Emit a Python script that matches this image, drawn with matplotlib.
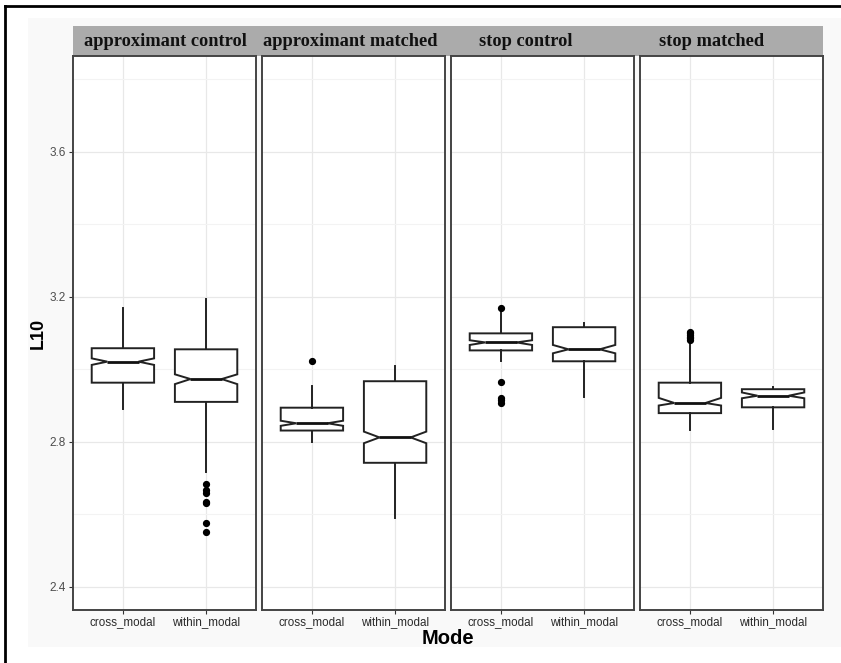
import numpy as np
import matplotlib.pyplot as plt
from matplotlib.patches import Rectangle
from matplotlib.lines import Line2D

# facets and categories
panels = ["approximant control", "approximant matched", "stop control", "stop matched"]
modes = ["cross_modal", "within_modal"]

# box stats, [cross_modal, within_modal] per facet
med = [[3.021, 2.973], [2.851, 2.812], [3.074, 3.055], [2.907, 2.927]]
q1 = [[2.963, 2.910], [2.831, 2.742], [3.052, 3.022], [2.879, 2.895]]
q3 = [[3.058, 3.055], [2.894, 2.967], [3.099, 3.116], [2.963, 2.945]]
whislo = [[2.890, 2.717], [2.799, 2.589], [3.023, 2.924], [2.832, 2.835]]
whishi = [[3.168, 3.194], [2.954, 3.010], [3.159, 3.127], [3.076, 2.952]]
cilo = [[3.012, 2.959], [2.844, 2.796], [3.067, 3.044], [2.900, 2.920]]
cihi = [[3.030, 2.986], [2.858, 2.828], [3.080, 3.067], [2.921, 2.936]]
fliers = [
    [[], [2.683, 2.668, 2.660, 2.634, 2.630, 2.575, 2.552]],
    [[3.023], []],
    [[3.168, 2.965, 2.922, 2.915, 2.908], []],
    [[3.080, 3.085, 3.090, 3.095, 3.100, 3.104], []],
]

major_y = [2.4, 2.8, 3.2, 3.6]
minor_y = [2.6, 3.0, 3.4, 3.8]

W, H = 841, 663
fig = plt.figure(figsize=(W / 100, H / 100), dpi=100)
fig.patch.set_facecolor("white")

# faint plot background and the outer frame lines
fig.patches.append(Rectangle((28 / W, 1 - 647 / H), (W - 28) / W, (647 - 18) / H,
                             transform=fig.transFigure, facecolor="#f9f9f9",
                             edgecolor="none", zorder=-2))
fig.lines.append(Line2D([5 / W, 1], [1 - 6 / H, 1 - 6 / H], transform=fig.transFigure,
                        color="black", lw=2))
fig.lines.append(Line2D([5 / W, 5 / W], [0, 1 - 6 / H], transform=fig.transFigure,
                        color="black", lw=2))

left0, pw, gap = 73, 183, 6
top, bot = 56, 610

# grey strip across all facets
fig.patches.append(Rectangle((left0 / W, 1 - top / H), (4 * pw + 3 * gap) / W, 30 / H,
                             transform=fig.transFigure, facecolor="#ababab",
                             edgecolor="none", zorder=-1))
strip_x = [165, 350, 526, 712]

for i, name in enumerate(panels):
    x0 = left0 + i * (pw + gap)
    ax = fig.add_axes([x0 / W, 1 - bot / H, pw / W, (bot - top) / H])
    ax.set_facecolor("white")

    stats = []
    for j in range(2):
        stats.append(dict(med=med[i][j], q1=q1[i][j], q3=q3[i][j],
                          whislo=whislo[i][j], whishi=whishi[i][j],
                          cilo=cilo[i][j], cihi=cihi[i][j],
                          fliers=np.array(fliers[i][j]), label=modes[j]))
    ax.bxp(stats, positions=[1, 2], widths=0.75, shownotches=True, showcaps=False,
           patch_artist=True,
           boxprops=dict(facecolor="white", edgecolor="#222222", linewidth=1.4),
           whiskerprops=dict(color="#222222", linewidth=1.4),
           medianprops=dict(color="#111111", linewidth=2.0),
           flierprops=dict(marker="o", markerfacecolor="black", markeredgecolor="black",
                           markersize=4.2),
           manage_ticks=False)

    ax.set_xlim(0.4, 2.6)
    ax.set_ylim(2.336, 3.864)
    ax.set_xticks([1, 2])
    ax.set_xticklabels(modes, fontsize=8.4, color="#2b2b2b", family="Liberation Sans")
    ax.set_yticks(major_y)
    ax.set_yticks(minor_y, minor=True)
    ax.grid(which="major", color="#e8e8e8", lw=0.9)
    ax.grid(which="minor", axis="y", color="#f3f3f3", lw=0.8)
    ax.set_axisbelow(True)
    ax.tick_params(axis="x", length=3, color="#333333", pad=1.5)
    ax.tick_params(axis="y", which="minor", length=0)
    if i == 0:
        ax.set_yticklabels([str(v) for v in major_y], fontsize=8.5, color="#4d4d4d",
                           family="Liberation Sans")
        ax.tick_params(axis="y", length=3, color="#333333", pad=2)
    else:
        ax.tick_params(axis="y", length=0, labelleft=False)
    for s in ax.spines.values():
        s.set_color("#444444")
        s.set_linewidth(1.4)

    fig.text(strip_x[i] / W, 1 - 41 / H, name, ha="center", va="center",
             fontsize=13.2, fontweight="bold", family="Liberation Serif", color="#111111")

fig.text(38 / W, 1 - 333 / H, "L10", rotation=90, ha="center", va="center",
         fontsize=13, fontweight="bold", family="Liberation Sans")
fig.text(448 / W, 1 - 639 / H, "Mode", ha="center", va="center",
         fontsize=14.5, fontweight="bold", family="Liberation Sans")

fig.savefig("out.png", dpi=100)
